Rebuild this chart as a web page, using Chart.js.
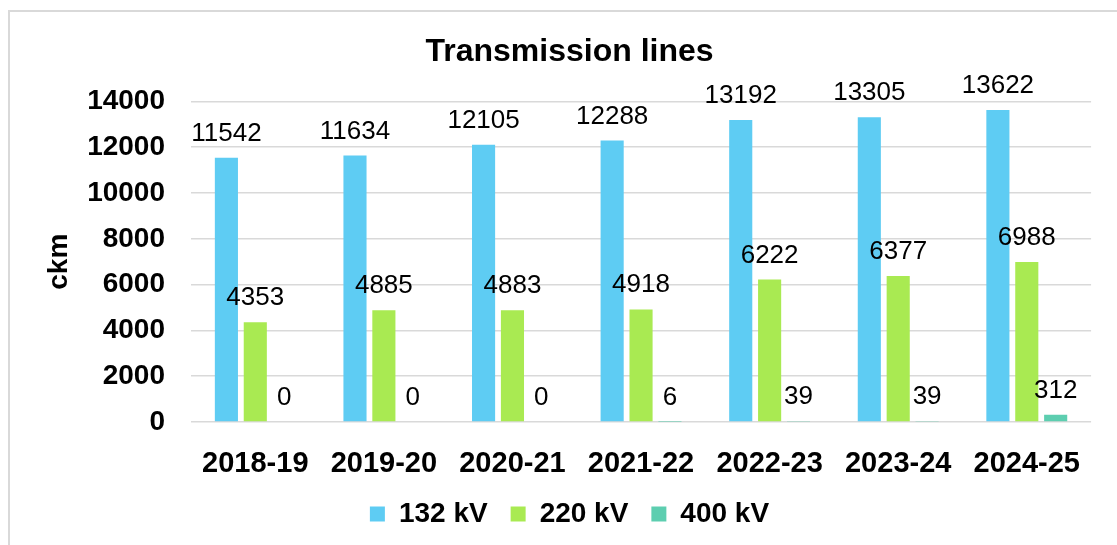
<!DOCTYPE html>
<html>
<head>
<meta charset="utf-8">
<script src="https://cdn.jsdelivr.net/npm/chart.js@4"></script>
<style>
  html, body { margin: 0; padding: 0; background: #fff; overflow: hidden; }
  .frame {
    position: absolute; left: 8px; top: 10px;
    width: 1200px; height: 600px;
    border: 2px solid #d9d9d9;
  }
  #chart { position: absolute; left: 0; top: 0; }
</style>
</head>
<body>
<div class="frame"></div>
<canvas id="chart" width="1097" height="545"></canvas>
<script>
'use strict';

const years = ['2018-19', '2019-20', '2020-21', '2021-22', '2022-23', '2023-24', '2024-25'];
const kv132 = [11542, 11634, 12105, 12288, 13192, 13305, 13622];
const kv220 = [4353, 4885, 4883, 4918, 6222, 6377, 6988];
const kv400 = [0, 0, 0, 6, 39, 39, 312];
const yTicks = [0, 2000, 4000, 6000, 8000, 10000, 12000, 14000];

const FONT = '"Liberation Sans", Arial, sans-serif';

// value labels above each bar
const barLabels = {
    id: 'barLabels',
    afterDatasetsDraw(chart) {
        const ctx = chart.ctx;
        ctx.save();
        ctx.font = '26px ' + FONT;
        ctx.fillStyle = '#000';
        ctx.textAlign = 'center';
        ctx.textBaseline = 'alphabetic';
        chart.data.datasets.forEach((ds, i) => {
            chart.getDatasetMeta(i).data.forEach((bar, j) => {
                ctx.fillText(String(ds.data[j]), bar.x, bar.y - 17);
            });
        });
        ctx.restore();
    }
};

new Chart(document.getElementById('chart'), {
    type: 'bar',
    data: {
        labels: years,
        datasets: [
            { label: '132 kV', data: kv132, backgroundColor: '#5ECCF3' },
            { label: '220 kV', data: kv220, backgroundColor: '#A9EA52' },
            { label: '400 kV', data: kv400, backgroundColor: '#5DCEB0' }
        ]
    },
    options: {
        responsive: false,
        animation: false,
        devicePixelRatio: 1,
        categoryPercentage: 0.674,
        barPercentage: 0.8,
        layout: { padding: { left: 42, right: 0, top: 0, bottom: 7 } },
        plugins: {
            title: {
                display: true,
                text: 'Transmission lines',
                color: '#000',
                font: { family: FONT, size: 32, weight: 'bold' },
                padding: { top: 33, bottom: 30 }
            },
            legend: {
                position: 'bottom',
                labels: {
                    color: '#000',
                    font: { family: FONT, size: 28, weight: 'bold' },
                    boxWidth: 15,
                    boxHeight: 15,
                    padding: 23
                }
            },
            tooltip: { enabled: false }
        },
        scales: {
            x: {
                grid: { display: false },
                border: { display: false },
                ticks: {
                    color: '#000',
                    font: { family: FONT, size: 29, weight: 'bold' },
                    padding: 17,
                    maxRotation: 0
                },
                afterFit(scale) { scale.height = 55; }
            },
            y: {
                min: 0,
                max: 14000,
                afterBuildTicks(scale) {
                    scale.ticks = yTicks.map(v => ({ value: v }));
                },
                grid: { color: '#d9d9d9', lineWidth: 1.5, drawTicks: false },
                border: { display: false },
                ticks: {
                    color: '#000',
                    font: { family: FONT, size: 28, weight: 'bold' },
                    padding: 26,
                    callback: value => String(value)
                },
                title: {
                    display: true,
                    text: 'ckm',
                    color: '#000',
                    font: { family: FONT, size: 28, weight: 'bold' },
                    padding: { top: 0, bottom: 0 }
                },
                afterFit(scale) { scale.width = 149; }
            }
        }
    },
    plugins: [barLabels]
});
</script>
</body>
</html>
